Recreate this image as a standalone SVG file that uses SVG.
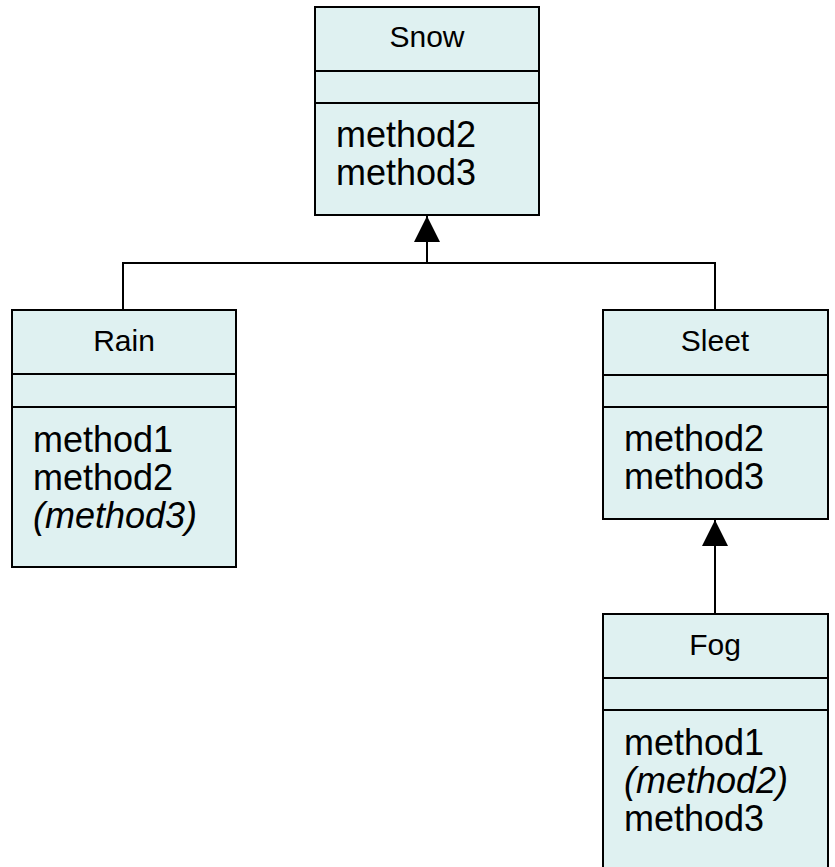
<svg xmlns="http://www.w3.org/2000/svg" width="835" height="867" viewBox="0 0 835 867">
<style>
.box{fill:#dff1f1;stroke:#000;stroke-width:2}
.div{stroke:#000;stroke-width:2}
.lbl{font-family:"Liberation Sans",Arial,sans-serif;font-size:30px;text-anchor:middle;fill:#000}
.m{font-family:"Liberation Sans",Arial,sans-serif;font-size:36px;fill:#000}
.i{font-style:italic}
.conn{stroke:#000;stroke-width:2;fill:none}
</style>
<defs>
<marker id="tri" markerWidth="26" markerHeight="28" refX="26" refY="13" orient="auto" markerUnits="userSpaceOnUse" viewBox="0 0 26 26">
<path d="M0,0 L26,13 L0,26 Z" fill="#000"/>
</marker>
</defs>
<rect width="835" height="867" fill="#fff"/>
<g id="connectors">
<polyline class="conn" points="123,310 123,263 715,263 715,310"/>
<line class="conn" x1="427" y1="263" x2="427" y2="216" marker-end="url(#tri)"/>
<line class="conn" x1="715" y1="614" x2="715" y2="520" marker-end="url(#tri)"/>
</g>
<g id="snow">
<rect class="box" x="315" y="7" width="224" height="208"/>
<line class="div" x1="315" y1="71" x2="539" y2="71"/>
<line class="div" x1="315" y1="103" x2="539" y2="103"/>
<text class="lbl" x="427" y="47">Snow</text>
<text class="m" x="336" y="147">method2</text>
<text class="m" x="336" y="185">method3</text>
</g>
<g id="rain">
<rect class="box" x="12" y="310" width="224" height="257"/>
<line class="div" x1="12" y1="374" x2="236" y2="374"/>
<line class="div" x1="12" y1="407" x2="236" y2="407"/>
<text class="lbl" x="124" y="351">Rain</text>
<text class="m" x="33" y="452">method1</text>
<text class="m" x="33" y="490">method2</text>
<text class="m i" x="33" y="528">(method3)</text>
</g>
<g id="sleet">
<rect class="box" x="603" y="310" width="225" height="209"/>
<line class="div" x1="603" y1="375" x2="828" y2="375"/>
<line class="div" x1="603" y1="407" x2="828" y2="407"/>
<text class="lbl" x="715" y="351">Sleet</text>
<text class="m" x="624" y="451">method2</text>
<text class="m" x="624" y="489">method3</text>
</g>
<g id="fog">
<rect class="box" x="603" y="614" width="225" height="270"/>
<line class="div" x1="603" y1="678" x2="828" y2="678"/>
<line class="div" x1="603" y1="710" x2="828" y2="710"/>
<text class="lbl" x="715" y="655">Fog</text>
<text class="m" x="624" y="755">method1</text>
<text class="m i" x="624" y="793">(method2)</text>
<text class="m" x="624" y="831">method3</text>
</g>
</svg>
